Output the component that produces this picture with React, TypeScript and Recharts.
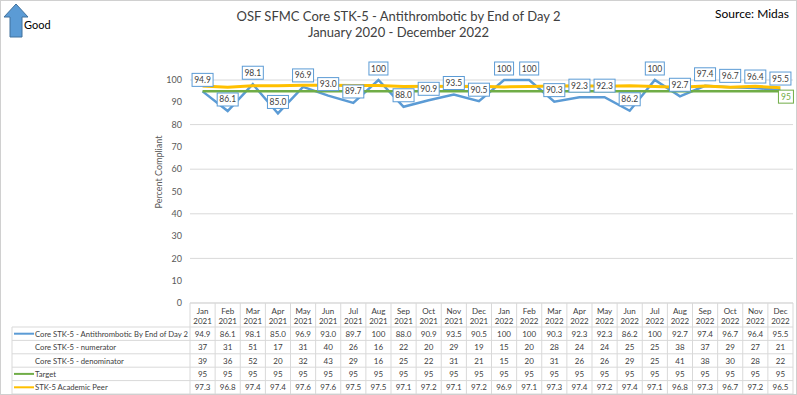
import { LineChart, Line, XAxis, YAxis, CartesianGrid } from "recharts";

const categories = [
  "Jan 2021", "Feb 2021", "Mar 2021", "Apr 2021", "May 2021", "Jun 2021",
  "Jul 2021", "Aug 2021", "Sep 2021", "Oct 2021", "Nov 2021", "Dec 2021",
  "Jan 2022", "Feb 2022", "Mar 2022", "Apr 2022", "May 2022", "Jun 2022",
  "Jul 2022", "Aug 2022", "Sep 2022", "Oct 2022", "Nov 2022", "Dec 2022",
];
const compliance = [94.9, 86.1, 98.1, 85.0, 96.9, 93.0, 89.7, 100, 88.0, 90.9, 93.5, 90.5, 100, 100, 90.3, 92.3, 92.3, 86.2, 100, 92.7, 97.4, 96.7, 96.4, 95.5];
const numerator = [37, 31, 51, 17, 31, 40, 26, 16, 22, 20, 29, 19, 15, 20, 28, 24, 24, 25, 25, 38, 37, 29, 27, 21];
const denominator = [39, 36, 52, 20, 32, 43, 29, 16, 25, 22, 31, 21, 15, 20, 31, 26, 26, 29, 25, 41, 38, 30, 28, 22];
const target = [95, 95, 95, 95, 95, 95, 95, 95, 95, 95, 95, 95, 95, 95, 95, 95, 95, 95, 95, 95, 95, 95, 95, 95];
const peer = [97.3, 96.8, 97.4, 97.4, 97.6, 97.6, 97.5, 97.5, 97.1, 97.2, 97.1, 97.2, 96.9, 97.1, 97.3, 97.4, 97.2, 97.4, 97.1, 96.8, 97.3, 96.7, 97.2, 96.5];
const yTicks = [0, 10, 20, 30, 40, 50, 60, 70, 80, 90, 100];

const BLUE = "#5B9BD5";
const GREEN = "#70AD47";
const YELLOW = "#FFC000";
const TEXT = "#404040";
const BORDER = "#D9D9D9";
const FONT = "Lato, 'Open Sans', sans-serif";

const W = 797;
const H = 395;
const MARGIN = { top: 80, right: 4, bottom: 0, left: 150 };
const Y_AXIS_W = 40;
const X_AXIS_H = 92;
const PLOT_LEFT = MARGIN.left + Y_AXIS_W;
const PLOT_RIGHT = W - MARGIN.right;
const PLOT_BOTTOM = H - MARGIN.bottom - X_AXIS_H;
const COL_W = (PLOT_RIGHT - PLOT_LEFT) / categories.length;
const HEADER_BOTTOM = PLOT_BOTTOM + 24;
const ROW_H = 13.4;
const TABLE_LEFT = 12;

const fmtRate = (v: number) => (v === 100 ? "100" : v.toFixed(1));

const rows = [
  { name: "Core STK-5 - Antithrombotic By End of Day 2", color: BLUE, values: compliance.map(fmtRate) },
  { name: "Core STK-5 - numerator", color: null, values: numerator.map(String) },
  { name: "Core STK-5 - denominator", color: null, values: denominator.map(String) },
  { name: "Target", color: GREEN, values: target.map(String) },
  { name: "STK-5 Academic Peer", color: YELLOW, values: peer.map((v) => v.toFixed(1)) },
];

const data = categories.map((c, i) => ({
  month: c,
  compliance: compliance[i],
  target: target[i],
  peer: peer[i],
}));

const TableTick = (props: any) => {
  const { x, index } = props;
  const left = x - COL_W / 2;
  const [m, yr] = categories[index].split(" ");
  const bottom = HEADER_BOTTOM + ROW_H * rows.length;
  return (
    <g fontFamily={FONT}>
      {index === 0 && (
        <g>
          <line x1={PLOT_LEFT} x2={PLOT_RIGHT} y1={PLOT_BOTTOM} y2={PLOT_BOTTOM} stroke={BORDER} />
          <line x1={TABLE_LEFT} x2={TABLE_LEFT} y1={HEADER_BOTTOM} y2={bottom} stroke={BORDER} />
          {[0, 1, 2, 3, 4, 5].map((r) => (
            <line key={r} x1={TABLE_LEFT} x2={PLOT_RIGHT} y1={HEADER_BOTTOM + r * ROW_H} y2={HEADER_BOTTOM + r * ROW_H} stroke={BORDER} />
          ))}
          {rows.map((row, r) => {
            const cy = HEADER_BOTTOM + r * ROW_H + ROW_H / 2;
            return (
              <g key={row.name}>
                {row.color && <line x1={14} x2={34} y1={cy} y2={cy} stroke={row.color} strokeWidth={2} />}
                <text x={35} y={cy + 3} fontSize={7.7} fill={TEXT}>{row.name}</text>
              </g>
            );
          })}
        </g>
      )}
      <line x1={left} x2={left} y1={PLOT_BOTTOM} y2={bottom} stroke={BORDER} />
      {index === categories.length - 1 && (
        <line x1={left + COL_W} x2={left + COL_W} y1={PLOT_BOTTOM} y2={bottom} stroke={BORDER} />
      )}
      <text x={x} y={PLOT_BOTTOM + 11} textAnchor="middle" fontSize={8} fill={TEXT}>{m}</text>
      <text x={x} y={PLOT_BOTTOM + 21} textAnchor="middle" fontSize={8} fill={TEXT}>{yr}</text>
      {rows.map((row, r) => (
        <text key={r} x={x} y={HEADER_BOTTOM + r * ROW_H + ROW_H / 2 + 3} textAnchor="middle" fontSize={8} fill={TEXT}>
          {row.values[index]}
        </text>
      ))}
    </g>
  );
};

const RateLabel = (props: any) => {
  const { x, y, value } = props;
  const text = fmtRate(value);
  const w = 13 + text.length * 2;
  return (
    <g fontFamily={FONT}>
      <rect x={x - w / 2} y={y - 18} width={w} height={13} fill="#fff" stroke={BLUE} strokeWidth={1} />
      <text x={x} y={y - 8.5} textAnchor="middle" fontSize={8.5} fill={TEXT}>{text}</text>
    </g>
  );
};

const TargetLabel = (props: any) => {
  const { x, y, value, index } = props;
  if (index !== categories.length - 1) return <g />;
  return (
    <g fontFamily={FONT}>
      <rect x={x - 2} y={y - 1} width={15} height={13} fill="#fff" stroke={GREEN} strokeWidth={1} />
      <text x={x + 5.5} y={y + 8.5} textAnchor="middle" fontSize={8.5} fill={GREEN}>{value}</text>
    </g>
  );
};

export default function App() {
  return (
    <div style={{ position: "relative", width: W, height: H, background: "#fff", fontFamily: FONT }}>
      <style>{"body{margin:0}"}</style>
      <LineChart width={W} height={H} data={data} margin={MARGIN}>
        <CartesianGrid vertical={false} stroke={BORDER} />
        <XAxis
          dataKey="month"
          height={X_AXIS_H}
          axisLine={false}
          tickLine={false}
          interval={0}
          padding={{ left: COL_W / 2, right: COL_W / 2 }}
          tick={<TableTick />}
        />
        <YAxis
          width={Y_AXIS_W}
          domain={[0, 100]}
          ticks={yTicks}
          axisLine={false}
          tickLine={false}
          tick={{ fontSize: 9, fill: "#595959", fontFamily: FONT }}
        />
        <Line dataKey="compliance" stroke={BLUE} strokeWidth={2.5} dot={false} isAnimationActive={false} />
        <Line dataKey="target" stroke={GREEN} strokeWidth={2.5} dot={false} isAnimationActive={false} label={<TargetLabel />} />
        <Line dataKey="peer" stroke={YELLOW} strokeWidth={3} dot={false} isAnimationActive={false} />
        <Line dataKey="compliance" stroke="none" dot={false} activeDot={false} legendType="none" isAnimationActive={false} label={<RateLabel />} />
      </LineChart>
      <div style={{ position: "absolute", left: 0, top: 0, width: W, height: H, boxSizing: "border-box", border: "1px solid #D0D0D0", pointerEvents: "none" }} />
      <svg style={{ position: "absolute", left: 0, top: 0 }} width={40} height={40}>
        <polygon points="16,4 28,17 22,17 22,37 10,37 10,17 4,17" fill={BLUE} stroke="#41719C" strokeWidth={1} />
      </svg>
      <div style={{ position: "absolute", left: 24, top: 18, fontSize: 11, color: "#000" }}>Good</div>
      <div style={{ position: "absolute", left: 0, width: W, top: 8, textAlign: "center", fontSize: 13, lineHeight: "16px", color: "#404040" }}>
        OSF SFMC Core STK-5 - Antithrombotic by End of Day 2
        <br />
        January 2020 - December 2022
      </div>
      <div style={{ position: "absolute", right: 8, top: 6, fontSize: 12, color: "#000" }}>Source: Midas</div>
      <div
        style={{
          position: "absolute",
          left: 158,
          top: 172,
          transform: "translate(-50%, -50%) rotate(-90deg)",
          fontSize: 9,
          color: "#595959",
          whiteSpace: "nowrap",
        }}
      >
        Percent Compliant
      </div>
    </div>
  );
}
